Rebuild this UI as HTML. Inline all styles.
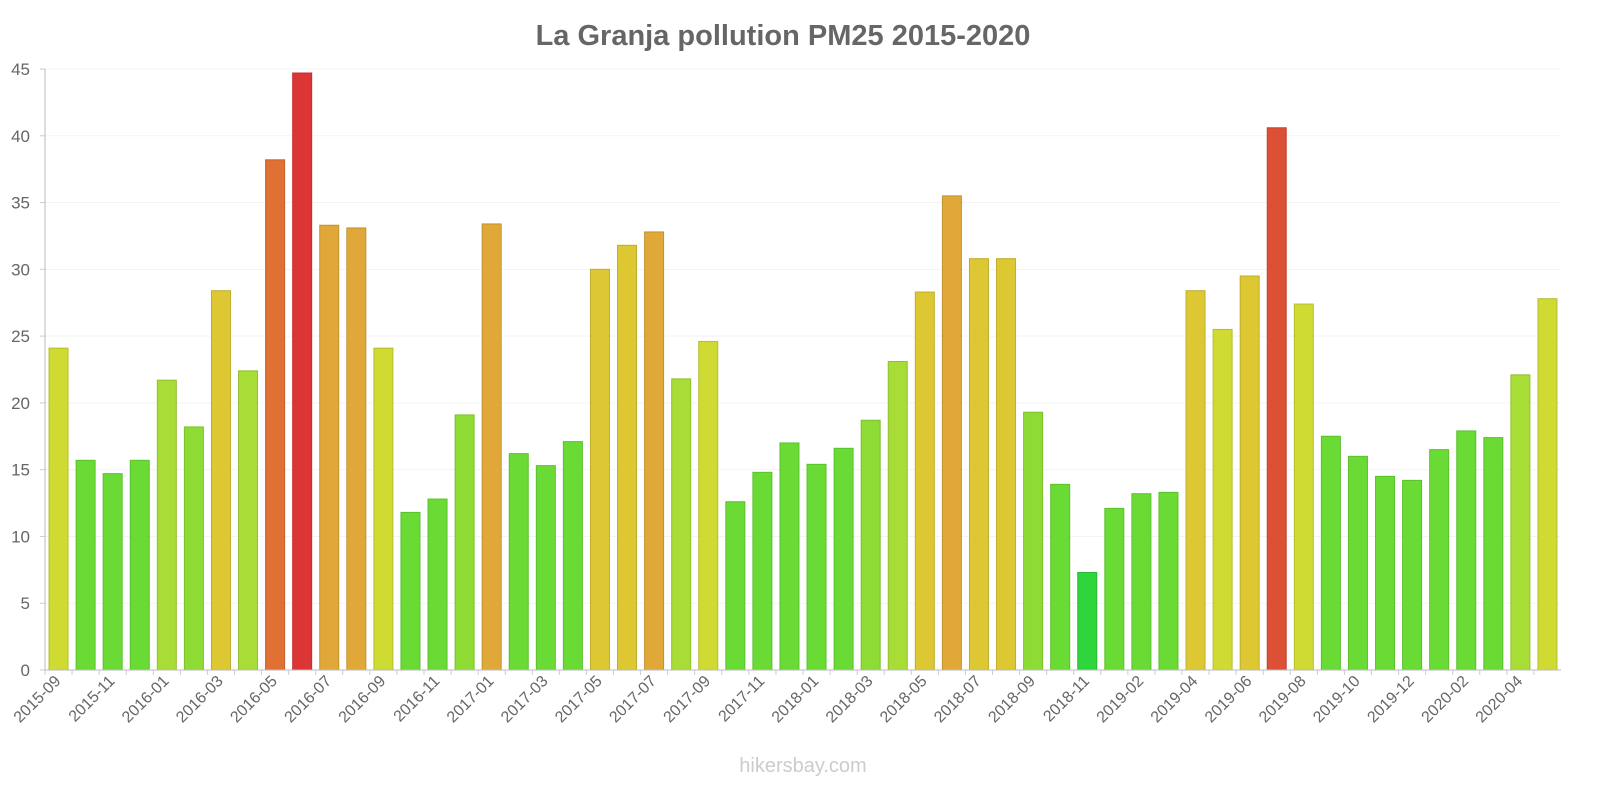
<!DOCTYPE html>
<html><head><meta charset="utf-8"><style>
body{margin:0;background:#fff;font-family:"Liberation Sans",sans-serif}
svg{display:block}
</style></head><body>
<svg id="chart" width="1600" height="800" xmlns="http://www.w3.org/2000/svg">
<text x="783" y="45" text-anchor="middle" font-size="29" font-weight="bold" fill="#666">La Granja pollution PM25 2015-2020</text>
<g id="grid"></g><g id="bars"></g><g id="axes"></g>
<text x="803" y="772" text-anchor="middle" font-size="20" fill="#ccc">hikersbay.com</text>
</svg>
<script>
const months = ["2015-09","2015-10","2015-11","2015-12","2016-01","2016-02","2016-03","2016-04","2016-05","2016-06","2016-07","2016-08","2016-09","2016-10","2016-11","2016-12","2017-01","2017-02","2017-03","2017-04","2017-05","2017-06","2017-07","2017-08","2017-09","2017-10","2017-11","2017-12","2018-01","2018-02","2018-03","2018-04","2018-05","2018-06","2018-07","2018-08","2018-09","2018-10","2018-11","2019-01","2019-02","2019-03","2019-04","2019-05","2019-06","2019-07","2019-08","2019-09","2019-10","2019-11","2019-12","2020-01","2020-02","2020-03","2020-04","2020-05"];
const pm25 = [24.1,15.7,14.7,15.7,21.7,18.2,28.4,22.4,38.2,44.7,33.3,33.1,24.1,11.8,12.8,19.1,33.4,16.2,15.3,17.1,30.0,31.8,32.8,21.8,24.6,12.6,14.8,17.0,15.4,16.6,18.7,23.1,28.3,35.5,30.8,30.8,19.3,13.9,7.3,12.1,13.2,13.3,28.4,25.5,29.5,40.6,27.4,17.5,16.0,14.5,14.2,16.5,17.9,17.4,22.1,27.8];
const yTicks = [0,5,10,15,20,25,30,35,40,45];
const NS="http://www.w3.org/2000/svg";
const X0=45,X1=1561,Y0=670,Y1=69,YMAX=45;
const bw=(X1-X0)/months.length;
const y=v=>Y0-(v/YMAX)*(Y0-Y1);
const xc=i=>X0+bw*(i+0.5);
function mk(t,a,p){const e=document.createElementNS(NS,t);for(const k in a)e.setAttribute(k,a[k]);p.appendChild(e);return e;}
function color(v){
 if(v<10)return["#2ed63c","#28b834"];
 if(v<18)return["#6adb35","#5cbf2e"];
 if(v<21)return["#8fdb36","#7cbf2f"];
 if(v<24)return["#a8dc36","#92bf2f"];
 if(v<28)return["#cfdb33","#b4bf2c"];
 if(v<32.5)return["#ddc833","#c0ae2c"];
 if(v<36)return["#dfa838","#c29230"];
 if(v<39)return["#e07034","#c3612d"];
 if(v<42)return["#dc5035","#bf452e"];
 return["#dc3535","#bf2e2e"];
}
const grid=document.getElementById('grid'),bars=document.getElementById('bars'),axes=document.getElementById('axes');
yTicks.forEach(t=>{
 const l=mk('line',{x1:X0,x2:X1,y1:y(t),y2:y(t),stroke:'#f3f3f3'},grid);
 
 
 const tx=mk('text',{x:X0-15,y:y(t)+6,'text-anchor':'end','font-size':17,fill:'#666'},axes);
 tx.textContent=t;
 
 
 mk('line',{x1:X0-5,x2:X0,y1:y(t),y2:y(t),stroke:'#ccc'},axes);
});
pm25.forEach((v,i)=>{
 const c=color(v);
 const r=mk('rect',{x:xc(i)-9.5,y:y(v),width:19,height:Y0-y(v),fill:c[0],stroke:c[1],'stroke-width':1},bars);
 
 
});
mk('line',{x1:X0,x2:X0,y1:Y1,y2:Y0,stroke:'#bbb'},axes);
mk('line',{x1:X0,x2:X1,y1:Y0,y2:Y0,stroke:'#bbb'},axes);
months.forEach((m,i)=>{
 mk('line',{x1:xc(i)-bw/2,x2:xc(i)-bw/2,y1:Y0,y2:Y0+5,stroke:'#ccc'},axes);
 if(i%2===0){
  const tx=mk('text',{x:xc(i)+3,y:Y0+12,'text-anchor':'end','font-size':16,fill:'#666',transform:`rotate(-45 ${xc(i)+3} ${Y0+12})`},axes);
  tx.textContent=m;
  
  
 }
});
</script>
</body></html>
